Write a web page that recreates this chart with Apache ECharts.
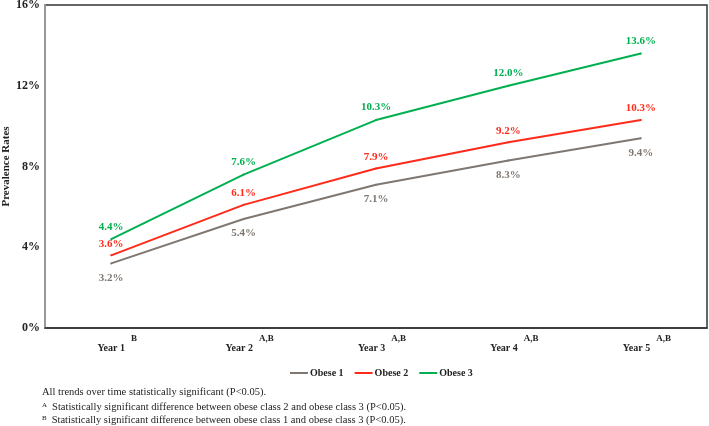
<!DOCTYPE html>
<html>
<head>
<meta charset="utf-8">
<script src="https://cdn.jsdelivr.net/npm/echarts@6/dist/echarts.min.js"></script>
<style>html,body{margin:0;padding:0;background:#fff}#c{width:709px;height:426px}</style>
</head>
<body>
<div id="c"></div>
<script>
var categories = ['Year 1', 'Year 2', 'Year 3', 'Year 4', 'Year 5'];
var superscripts = ['B', 'A,B', 'A,B', 'A,B', 'A,B'];
var obese1 = [3.2, 5.4, 7.1, 8.3, 9.4];
var obese2 = [3.6, 6.1, 7.9, 9.2, 10.3];
var obese3 = [4.4, 7.6, 10.3, 12.0, 13.6];
var yTicks = [0, 4, 8, 12, 16];
var footnotes = [
  ['', 'All trends over time statistically significant (P<0.05).'],
  ['A', 'Statistically significant difference between obese class 2 and obese class 3 (P<0.05).'],
  ['B', 'Statistically significant difference between obese class 1 and obese class 3 (P<0.05).']
];

var serif = '"Liberation Serif", "DejaVu Serif", serif';
var chart = echarts.init(document.getElementById('c'));

function mkSeries(name, data, color, pos, dist) {
  return {
    name: name, type: 'line', data: data,
    symbol: 'circle', symbolSize: 2, showSymbol: true,
    lineStyle: { color: color, width: 2 },
    itemStyle: { color: color },
    label: {
      show: true, position: pos, distance: dist,
      formatter: function (p) { return p.value.toFixed(1) + '%'; },
      fontFamily: serif, fontWeight: 'bold', fontSize: 11, color: color
    }
  };
}

var titles = footnotes.map(function (f, i) {
  return {
    left: 42, top: 386 + i * 12.5, padding: 0,
    text: (f[0] ? '{s|' + f[0] + '} ' : '') + '{t|' + f[1] + '}',
    textStyle: {
      fontWeight: 'normal',
      rich: {
        t: { fontFamily: serif, fontSize: 10.5, fontWeight: 'normal', color: '#222', lineHeight: 13 },
        s: { fontFamily: serif, fontSize: 7, fontWeight: 'normal', color: '#222', lineHeight: 13, padding: [0, 0, 4, 0] }
      }
    }
  };
});

chart.setOption({
  animation: false,
  title: titles,
  grid: {
    left: 45, right: 2, top: 5, bottom: 98, containLabel: false, outerBoundsMode: 'none',
    show: true, borderColor: '#333', borderWidth: 1.5
  },
  xAxis: {
    type: 'category', data: categories, boundaryGap: true,
    axisLine: { lineStyle: { color: '#333', width: 1.5 } },
    axisTick: { show: false },
    axisLabel: {
      margin: 6,
      formatter: function (v, i) { return '{a|' + v + '}{s|' + superscripts[i] + '}'; },
      rich: {
        a: { fontFamily: serif, fontWeight: 'bold', fontSize: 10, color: '#222', padding: [8, 0, 0, 12] },
        s: { fontFamily: serif, fontWeight: 'bold', fontSize: 9, color: '#222', padding: [0, 0, 11, 6] }
      }
    }
  },
  yAxis: {
    type: 'value', min: 0, max: 16, interval: 4,
    name: 'Prevalence Rates', nameLocation: 'middle', nameGap: 33, nameMoveOverlap: false,
    nameTextStyle: { fontFamily: serif, fontWeight: 'bold', fontSize: 11, color: '#222' },
    axisLine: { show: true, lineStyle: { color: '#999', width: 2 } },
    axisTick: { show: false },
    splitLine: { show: false },
    axisLabel: {
      margin: 5, fontFamily: serif, fontWeight: 'bold', fontSize: 12, color: '#222',
      formatter: function (v) { return yTicks.indexOf(v) >= 0 ? v + '%' : ''; }
    }
  },
  legend: {
    left: 285, top: 363, itemWidth: 18, itemHeight: 2, itemGap: 11,
    icon: 'rect',
    textStyle: { fontFamily: serif, fontWeight: 'bold', fontSize: 10, color: '#222', padding: [0, 0, 0, -3] },
    data: ['Obese 1', 'Obese 2', 'Obese 3']
  },
  series: [
    mkSeries('Obese 1', obese1, '#7f7770', 'bottom', 8),
    mkSeries('Obese 2', obese2, '#ff2a1a', 'top', 5),
    mkSeries('Obese 3', obese3, '#00b050', 'top', 6)
  ]
});
</script>
</body>
</html>
